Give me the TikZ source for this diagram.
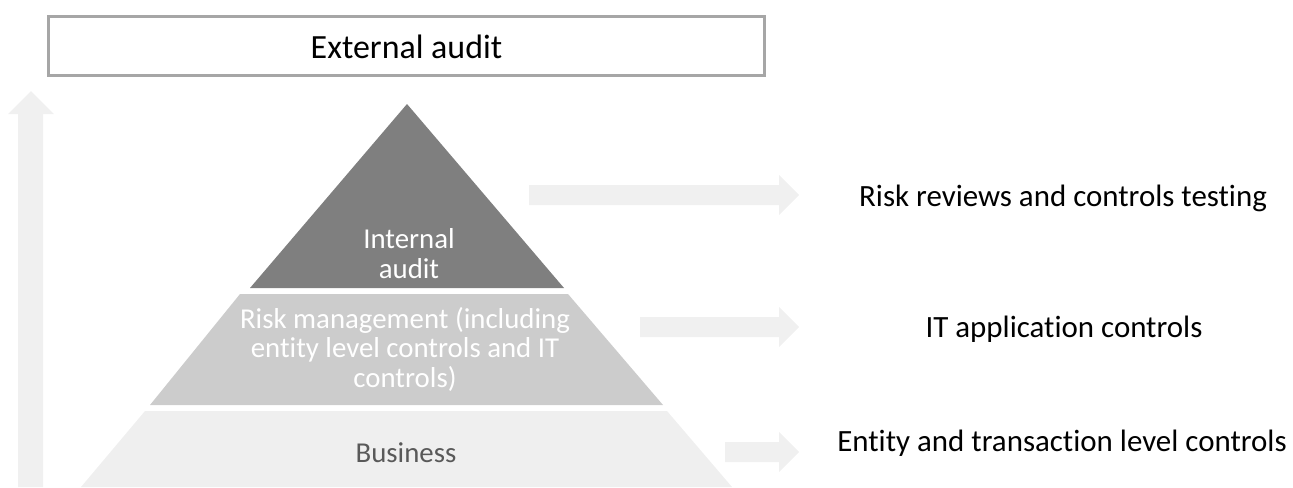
\documentclass[tikz,border=0pt]{standalone}
\usepackage{fontspec}
\setmainfont{Carlito}[Ligatures=NoCommon]
\usepackage{tikz}

\definecolor{apexgray}{HTML}{7F7F7F}
\definecolor{midgray}{HTML}{CCCCCC}
\definecolor{basegray}{HTML}{EFEFEF}
\definecolor{arrowgray}{HTML}{F0F0F0}
\definecolor{framegray}{HTML}{A6A6A6}
\definecolor{labelgray}{HTML}{595959}

\begin{document}
\begin{tikzpicture}[
        x=0.02cm, y=-0.02cm,
        lbl/.style={font=\fontsize{17.6}{21}\selectfont, inner sep=0pt, anchor=base},
        tier/.style={font=\fontsize{16.4}{16.6}\selectfont, align=center, inner sep=0pt, anchor=base}
    ]
    \useasboundingbox (0,0) rectangle (1293,487);

    % rising arrow on the left
    \fill[arrowgray] (18,487) -- (18,114) -- (8,114) -- (31,91) -- (54,114) -- (43,114) -- (43,487) -- cycle;

    % top box
    \node[draw=framegray, line width=1.7pt, minimum width=14.32cm, minimum height=1.18cm, inner sep=0pt] (extbox) at (406.5,46) {};
    \node[lbl, font=\fontsize{19.3}{22}\selectfont] (ext) at (406.5,58) {External audit};

    % pyramid tiers (base anchor sits on the last line)
    \fill[apexgray] (407,104) -- (564,288) -- (250,288) -- cycle;
    \fill[midgray] (240,294) -- (568,294) -- (663,405) -- (150,405) -- cycle;
    \fill[basegray] (145,411) -- (667,411) -- (732,487) -- (81,487) -- cycle;

    \node[tier, text=white, font=\fontsize{16.4}{17}\selectfont] (inaud) at (409,278) {Internal\\audit};
    \node[tier, text=white] (riskmgmt) at (405,387) {Risk management (including\\entity level controls and IT\\controls)};
    \node[tier, text=labelgray] (business) at (406,462) {Business};

    % block arrows to the right
    \foreach \xs/\ys in {529/195, 640/327, 725/452}
        \fill[arrowgray] (\xs,\ys-10) -- (779,\ys-10) -- (779,\ys-20) -- (799,\ys)
            -- (779,\ys+20) -- (779,\ys+10) -- (\xs,\ys+10) -- cycle;

    \node[lbl] (reviews) at (1063,206) {Risk reviews and controls testing};
    \node[lbl] (appctl) at (1064,337) {IT application controls};
    \node[lbl] (entctl) at (1062,451) {Entity and transaction level controls};
\end{tikzpicture}
\end{document}
